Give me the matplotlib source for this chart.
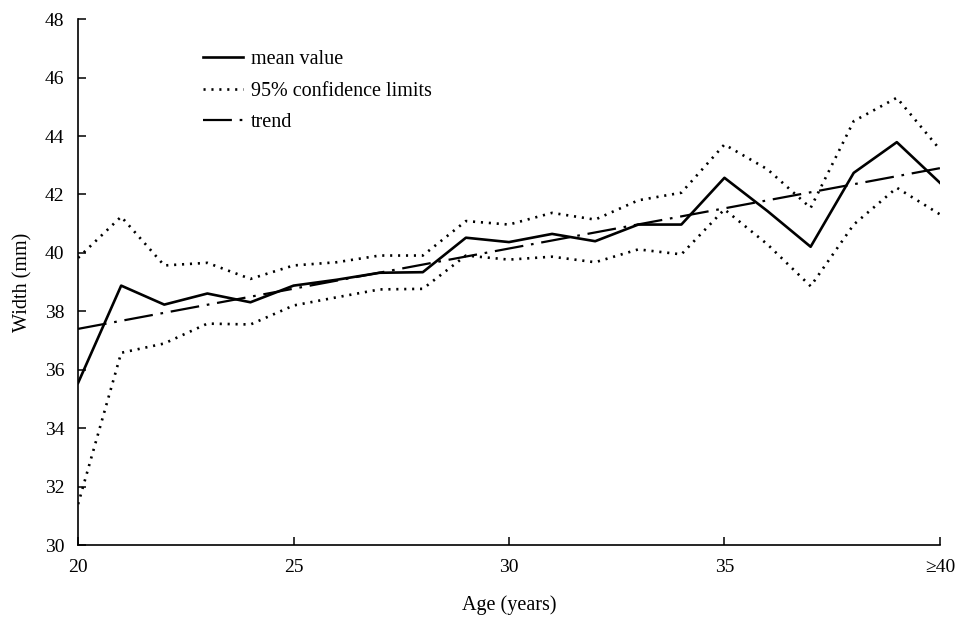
import numpy as np
import matplotlib
matplotlib.use("Agg")
import matplotlib.pyplot as plt

plt.rcParams['font.family'] = ['Liberation Serif', 'DejaVu Serif']

# age 20..40 (40 means >=40)
ages = list(range(20, 41))
mean_width = [35.55, 38.88, 38.23, 38.61, 38.31, 38.88, 39.08, 39.32, 39.34, 40.52,
              40.37, 40.65, 40.40, 40.97, 40.97, 42.57, 41.43, 40.21, 42.74, 43.79, 42.40]
upper_ci = [39.83, 41.24, 39.57, 39.66, 39.11, 39.57, 39.68, 39.91, 39.91, 41.09,
            40.97, 41.37, 41.14, 41.80, 42.06, 43.71, 42.86, 41.54, 44.51, 45.31, 43.54]
lower_ci = [31.40, 36.58, 36.90, 37.58, 37.55, 38.20, 38.48, 38.75, 38.77, 39.91,
            39.77, 39.87, 39.68, 40.12, 39.95, 41.49, 40.29, 38.86, 40.97, 42.23, 41.32]
trend_x = [20, 40]
trend_y = [37.4, 42.9]

xtick_vals = [20, 25, 30, 35, 40]
xtick_labels = ['20', '25', '30', '35', '\u226540']
ytick_vals = list(range(30, 49, 2))

fig = plt.figure(figsize=(9.64, 6.18), dpi=100)
ax = fig.add_axes([0.081, 0.118, 0.894, 0.851])

ax.plot(ages, mean_width, color='black', lw=1.9, label='mean value')
ax.plot(ages, upper_ci, color='black', lw=1.9, linestyle=(0, (0.8, 2.2)),
        label='95% confidence limits')
ax.plot(ages, lower_ci, color='black', lw=1.9, linestyle=(0, (0.8, 2.2)))
ax.plot(trend_x, trend_y, color='black', lw=1.6, linestyle=(0, (13, 3.5, 1.2, 3.5)),
        label='trend')

ax.set_xlim(20, 40)
ax.set_ylim(30, 48)
ax.set_xticks(xtick_vals)
ax.set_xticklabels(xtick_labels)
ax.set_yticks(ytick_vals)
ax.tick_params(direction='in', length=6, width=1.1, labelsize=14, pad=10)
ax.tick_params(axis='y', pad=10)
for s in ['top', 'right']:
    ax.spines[s].set_visible(False)
for s in ['left', 'bottom']:
    ax.spines[s].set_linewidth(1.2)

ax.set_xlabel('Age (years)', fontsize=14.5, labelpad=14)
ax.set_ylabel('Width (mm)', fontsize=14.5, labelpad=9)

ax.legend(loc='upper left', bbox_to_anchor=(0.202, 0.932), bbox_transform=fig.transFigure,
          frameon=False, fontsize=14.5, handlelength=2.0, handletextpad=0.4,
          labelspacing=0.62, borderaxespad=0)

fig.savefig('out.png', dpi=100)
